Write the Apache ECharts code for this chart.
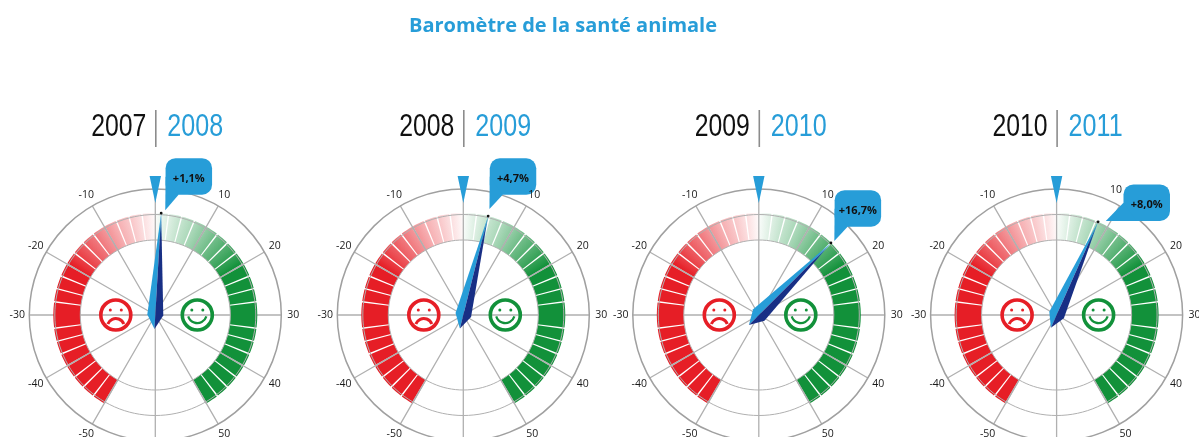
<!DOCTYPE html>
<html>
<head>
	<meta charset="utf-8">
	<script src="https://cdn.jsdelivr.net/npm/echarts@6/dist/echarts.min.js"></script>
</head>
<body style="margin:0;background:#fff;">
	<div id="main" style="width:1199px;height:437px;"></div>
	<script type="text/javascript">
        // chart data
        var pageTitle = 'Baromètre de la santé animale';
        var yearsFrom = ['2007', '2008', '2009', '2010'];
        var yearsTo = ['2008', '2009', '2010', '2011'];
        var bubbleLabels = ['+1,1%', '+4,7%', '+16,7%', '+8,0%'];
        // where the needle points on the dial, as drawn (gauge 3 sits at 45 degrees, so about 15)
        var needleValues = [1.1, 4.7, 15, 8.0];
        // band block edges on the dial, and colour strength at each edge (no block edge at 30)
        var bandStops = [0, 2.5, 5, 7.5, 10, 12.5, 15, 17.5, 20, 22.5, 25, 27.5, 32.5, 35, 37.5, 40, 42.5, 45, 47.5, 50];
        var bandShades = [0.03, 0.14, 0.25, 0.35, 0.47, 0.6, 0.72, 0.85, 1, 1, 1, 1, 1, 1, 1, 1, 1, 1, 1, 1];
        var tickLabels = [-50, -40, -30, -20, -10, 10, 20, 30, 40, 50];
        var darkSpokes = [-50, -40, -20, -10, 10, 20, 40, 50];

        // layout
        var centers = [155.3, 463.3, 758.8, 1056.6];
        var centerY = 315;
        var outerR = 126;
        var labelR = 138;
        var bandInner = 75;
        var bandOuter = 102;
        var rings = [75, 100.5];
        // bubble top-left and pointer tip, relative to the needle tip
        var bubbleOffsets = [[4.4, -55], [1.6, -57.7], [3.7, -52.7], [25.4, -37.4]];
        var pointerOffsets = [[4.1, -3], [1.3, -7], [3.4, -2], [7.7, -0.7]];
        // the "10" label is pushed aside by the bubble on some gauges
        var tenLabelShift = [[0, 0], [2, 0], [0, 0], [-9.5, -5]];

        var BLUE = '#279dd8', NAVY = '#182f85', RED = '#e61e26', GREEN = '#12913a', GREY = '#b0b0b0';
        var FONT = '"Open Sans", sans-serif';
        var YEAR_FONT = '31px "Liberation Sans", sans-serif';

        function wrap(a) {
            return ((a + 60) % 120 + 120) % 120 - 60;
        }

        // one band block, data = [start angle, end angle, shade start, shade end]
        function renderSegment(rgb) {
            return function (params, api) {
                var a0 = api.value(0), a1 = api.value(1), pts = [], i;
                for (i = 0; i <= 4; i++) pts.push(api.coord([bandOuter, a0 + (a1 - a0) * i / 4]));
                for (i = 4; i >= 0; i--) pts.push(api.coord([bandInner, a0 + (a1 - a0) * i / 4]));
                var p0 = api.coord([88, a0]), p1 = api.coord([88, a1]);
                return {
                    type: 'polygon',
                    shape: {points: pts},
                    style: {
                        fill: new echarts.graphic.LinearGradient(p0[0], p0[1], p1[0], p1[1], [
                            {offset: 0, color: 'rgba(' + rgb + ',' + api.value(2) + ')'},
                            {offset: 1, color: 'rgba(' + rgb + ',' + api.value(3) + ')'}
                        ], true)
                    }
                };
            };
        }

        function bandData(sign) {
            var out = [], gap = 0.14;
            for (var i = 0; i < bandStops.length - 1; i++) {
                out.push([sign * (bandStops[i] + gap), sign * (bandStops[i + 1] - gap), bandShades[i], bandShades[i + 1]]);
            }
            return out;
        }

        function renderSpoke(params, api) {
            var a = api.coord([bandInner, api.value(0)]), b = api.coord([bandOuter, api.value(0)]);
            return {
                type: 'line',
                shape: {x1: a[0], y1: a[1], x2: b[0], y2: b[1]},
                style: {stroke: GREY, lineWidth: 1.3}
            };
        }

        function renderTickLabel(i) {
            return function (params, api) {
                var v = api.value(0);
                var p = api.coord([labelR, v]);
                var shift = v === 10 ? tenLabelShift[i] : [0, 0];
                return {
                    type: 'text',
                    style: {
                        x: p[0] + shift[0], y: p[1] + shift[1], text: String(v), align: 'center', verticalAlign: 'middle',
                        font: '10.5px ' + FONT, fill: '#1a1a1a'
                    }
                };
            };
        }

        function renderMarker(params, api) {
            var p = api.coord([112, 0]);
            return {
                type: 'polygon',
                shape: {points: [[p[0] - 5.7, p[1] - 27], [p[0] + 5.7, p[1] - 27], p]},
                style: {fill: BLUE}
            };
        }

        function renderNeedle(params, api) {
            var v = api.value(0);
            var tip = api.coord([bandOuter, v]);
            var left = api.coord([8, wrap(v - 30)]);
            var right = api.coord([8, wrap(v + 30)]);
            var tail = api.coord([14, wrap(v + 60)]);
            var mid = api.coord([0, v]);
            return {
                type: 'group',
                children: [{
                    type: 'polygon',
                    shape: {points: [tip, left, tail]},
                    style: {fill: BLUE}
                }, {
                    type: 'polygon',
                    shape: {points: [tip, right, tail]},
                    style: {
                        fill: new echarts.graphic.LinearGradient(tip[0], tip[1], mid[0], mid[1], [
                            {offset: 0, color: BLUE},
                            {offset: 0.25, color: NAVY},
                            {offset: 1, color: NAVY}
                        ], true)
                    }
                }, {
                    type: 'circle',
                    shape: {cx: tip[0], cy: tip[1], r: 1.4},
                    style: {fill: '#111'}
                }]
            };
        }

        function renderSmiley(color, happy) {
            return function (params, api) {
                var p = api.coord([api.value(0), api.value(1)]);
                var mouth = happy
                    ? {cx: 0, cy: -1.5, r: 9.5, startAngle: 0.3, endAngle: Math.PI - 0.3}
                    : {cx: 0, cy: 12, r: 8.5, startAngle: Math.PI + 0.35, endAngle: -0.35};
                return {
                    type: 'group',
                    x: p[0],
                    y: p[1],
                    children: [
                        {type: 'circle', shape: {cx: 0, cy: 0, r: 15}, style: {fill: 'none', stroke: color, lineWidth: 3.6}},
                        {type: 'circle', shape: {cx: -5.5, cy: -5, r: 1.5}, style: {fill: color}},
                        {type: 'circle', shape: {cx: 5.5, cy: -5, r: 1.5}, style: {fill: color}},
                        {type: 'arc', shape: mouth, style: {fill: 'none', stroke: color, lineWidth: happy ? 2.2 : 3}}
                    ]
                };
            };
        }

        function renderBubble(i) {
            return function (params, api) {
                var tip = api.coord([bandOuter, api.value(0)]);
                var x = tip[0] + bubbleOffsets[i][0], y = tip[1] + bubbleOffsets[i][1];
                var w = 46.5, h = 36.5;
                return {
                    type: 'group',
                    children: [{
                        type: 'rect',
                        shape: {x: x, y: y, width: w, height: h, r: 10},
                        style: {fill: BLUE}
                    }, {
                        type: 'polygon',
                        shape: {points: [
                            [x, y + h / 2],
                            [tip[0] + pointerOffsets[i][0], tip[1] + pointerOffsets[i][1]],
                            [x + 13, y + h]
                        ]},
                        style: {fill: BLUE}
                    }, {
                        type: 'text',
                        style: {
                            x: x + w / 2, y: y + h / 2 + 2, text: bubbleLabels[i],
                            align: 'center', verticalAlign: 'middle',
                            font: 'bold 11px ' + FONT, fill: '#111'
                        }
                    }]
                };
            };
        }

        var polar = [], angleAxis = [], radiusAxis = [], series = [], graphic = [];

        centers.forEach(function (cx, i) {
            polar.push({center: [cx, centerY], radius: outerR});
            angleAxis.push({
                polarIndex: i,
                type: 'value',
                min: -60,
                max: 60,
                interval: 10,
                startAngle: 270,
                clockwise: true,
                axisLine: {lineStyle: {color: '#a0a0a0', width: 1.5}},
                axisTick: {show: false},
                axisLabel: {show: false},
                splitLine: {lineStyle: {color: GREY, width: 1.3}}
            });
            radiusAxis.push({
                polarIndex: i,
                type: 'value',
                min: 0,
                max: outerR,
                axisLine: {show: false},
                axisTick: {show: false},
                axisLabel: {show: false},
                splitLine: {show: false}
            });

            var common = {type: 'custom', coordinateSystem: 'polar', polarIndex: i, silent: true};
            rings.forEach(function (r) {
                var pts = [];
                for (var a = -60; a <= 60; a++) pts.push([r, a]);
                series.push({
                    type: 'line', coordinateSystem: 'polar', polarIndex: i, silent: true, z: 3,
                    symbol: 'none', data: pts,
                    lineStyle: {color: GREY, width: 1}
                });
            });
            series.push(Object.assign({z: 2, data: bandData(1), renderItem: renderSegment('18,145,58')}, common));
            series.push(Object.assign({z: 2, data: bandData(-1), renderItem: renderSegment('230,30,38')}, common));
            series.push(Object.assign({z: 3, data: darkSpokes, renderItem: renderSpoke}, common));
            series.push(Object.assign({z: 4, data: [[39.5, -30]], renderItem: renderSmiley(RED, false)}, common));
            series.push(Object.assign({z: 4, data: [[42, 30]], renderItem: renderSmiley(GREEN, true)}, common));
            series.push(Object.assign({z: 5, data: [0], renderItem: renderMarker}, common));
            series.push(Object.assign({z: 6, data: [needleValues[i]], renderItem: renderNeedle}, common));
            series.push(Object.assign({z: 7, data: [needleValues[i]], renderItem: renderBubble(i)}, common));
            series.push(Object.assign({z: 8, data: tickLabels, renderItem: renderTickLabel(i)}, common));

            graphic.push({
                type: 'text', x: cx - 9, y: 127, scaleX: 0.8,
                style: {text: yearsFrom[i], align: 'right', verticalAlign: 'middle', font: YEAR_FONT, fill: '#111'}
            });
            graphic.push({
                type: 'line',
                shape: {x1: cx + 0.5, y1: 110, x2: cx + 0.5, y2: 147},
                style: {stroke: '#8c8c8c', lineWidth: 1.6}
            });
            graphic.push({
                type: 'text', x: cx + 12, y: 127, scaleX: 0.81,
                style: {text: yearsTo[i], align: 'left', verticalAlign: 'middle', font: YEAR_FONT, fill: BLUE}
            });
        });

        var myChart = echarts.init(document.getElementById('main'));
        myChart.setOption({
            animation: false,
            title: {
                text: pageTitle,
                left: 558,
                top: 11,
                textAlign: 'center',
                textStyle: {color: BLUE, fontFamily: FONT, fontWeight: 'bold', fontSize: 20}
            },
            polar: polar,
            angleAxis: angleAxis,
            radiusAxis: radiusAxis,
            series: series,
            graphic: graphic
        });
    </script>
</body>
</html>
